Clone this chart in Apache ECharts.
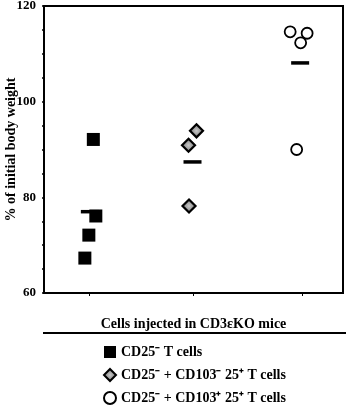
<!DOCTYPE html>
<html>
<head>
<meta charset="utf-8">
<script src="https://cdn.jsdelivr.net/npm/echarts@6/dist/echarts.min.js"></script>
<style>
html,body{margin:0;padding:0;background:#fff;}
#chart{width:346px;height:414px;}
</style>
</head>
<body>
<div id="chart"></div>
<script>
// ---- data ----
var groupNames = ['CD25\u207B T cells', 'CD25\u207B + CD103\u207B 25\u207A T cells', 'CD25\u207B + CD103\u207A 25\u207A T cells'];
var groupTickX = [0.45, 1.495, 2.59];
// individual mice: [x position (jitter around group), % of initial body weight]
var cd25negX = [0.495, 0.52, 0.45, 0.41];
var cd25negY = [92.1, 76.1, 72.1, 67.3];
var cd103negX = [1.53, 1.45, 1.455];
var cd103negY = [93.9, 90.9, 78.2];
var cd103posX = [2.47, 2.64, 2.575, 2.535];
var cd103posY = [114.6, 114.3, 112.3, 90.0];
// group means (horizontal bars)
var meanX = [0.46, 1.49, 2.57];
var meanY = [77.0, 87.4, 108.1];
var yTicks = [60, 80, 100, 120];

function pairs(xs, ys){ return xs.map(function(x,i){ return [x, ys[i]]; }); }

var font = '"Liberation Serif", "Times New Roman", serif';
var chart = echarts.init(document.getElementById('chart'), null, {renderer:'canvas'});
chart.setOption({
  animation: false,
  backgroundColor: '#fff',
  textStyle: {fontFamily: font, fontWeight: 'bold', color: '#000'},
  grid: {left: 44, right: 3, top: 6, bottom: 121, containLabel: false, outerBoundsMode: 'none',
         show: true, borderColor: '#000', borderWidth: 2},
  xAxis: {
    type: 'value', min: 0, max: 3,
    name: 'Cells injected in CD3\u03B5KO mice',
    nameLocation: 'middle', nameGap: 24, nameMoveOverlap: false,
    nameTextStyle: {fontFamily: font, fontWeight: 'bold', fontSize: 14, color: '#000'},
    axisLine: {show: true, onZero: false, lineStyle: {color: '#000', width: 2}},
    axisTick: {show: true, customValues: groupTickX, length: 3, lineStyle: {color: '#000', width: 1}},
    axisLabel: {show: false},
    splitLine: {show: false}
  },
  yAxis: {
    type: 'value', min: yTicks[0], max: yTicks[yTicks.length-1], interval: 20,
    name: '% of initial body weight',
    nameLocation: 'middle', nameGap: 26, nameRotate: 90, nameMoveOverlap: false,
    nameTextStyle: {fontFamily: font, fontWeight: 'bold', fontSize: 14, color: '#000'},
    axisLine: {show: true, lineStyle: {color: '#000', width: 2}},
    axisTick: {show: true, length: 2, lineStyle: {color: '#000', width: 1.5}},
    minorTick: {show: true, splitNumber: 4, length: 2, lineStyle: {color: '#000', width: 1.5}},
    axisLabel: {fontFamily: font, fontWeight: 'bold', fontSize: 13, color: '#000', margin: 8},
    splitLine: {show: false}
  },
  legend: {
    orient: 'vertical', left: 98, top: 340, width: 240, height: 100,
    itemWidth: 12, itemHeight: 12, itemGap: 9,
    data: groupNames,
    textStyle: {fontFamily: font, fontWeight: 'bold', fontSize: 14, color: '#000', padding: [0,0,0,0]}
  },
  graphic: [{
    type: 'line', shape: {x1: 43, y1: 333, x2: 346, y2: 333},
    style: {stroke: '#000', lineWidth: 2}, silent: true
  }],
  series: [
    {
      name: groupNames[0], type: 'scatter', symbol: 'rect', symbolSize: 13,
      itemStyle: {color: '#000', opacity: 1},
      data: pairs(cd25negX, cd25negY), z: 3
    },
    {
      name: groupNames[1], type: 'scatter', symbol: 'diamond', symbolSize: 13,
      itemStyle: {
        color: {type: 'radial', x: 0.5, y: 0.5, r: 0.5, colorStops: [{offset: 0, color: '#c8c8c8'}, {offset: 1, color: '#707070'}]},
        borderColor: '#000', borderWidth: 2.2, opacity: 1
      },
      data: pairs(cd103negX, cd103negY), z: 3
    },
    {
      name: groupNames[2], type: 'scatter', symbol: 'circle', symbolSize: 11,
      itemStyle: {color: '#fff', borderColor: '#000', borderWidth: 1.8, opacity: 1},
      data: pairs(cd103posX, cd103posY), z: 3
    },
    {
      name: 'mean', type: 'scatter', symbol: 'rect', symbolSize: [18, 3.5],
      itemStyle: {color: '#000', opacity: 1},
      data: pairs(meanX, meanY), z: 2
    }
  ]
});
</script>
</body>
</html>
